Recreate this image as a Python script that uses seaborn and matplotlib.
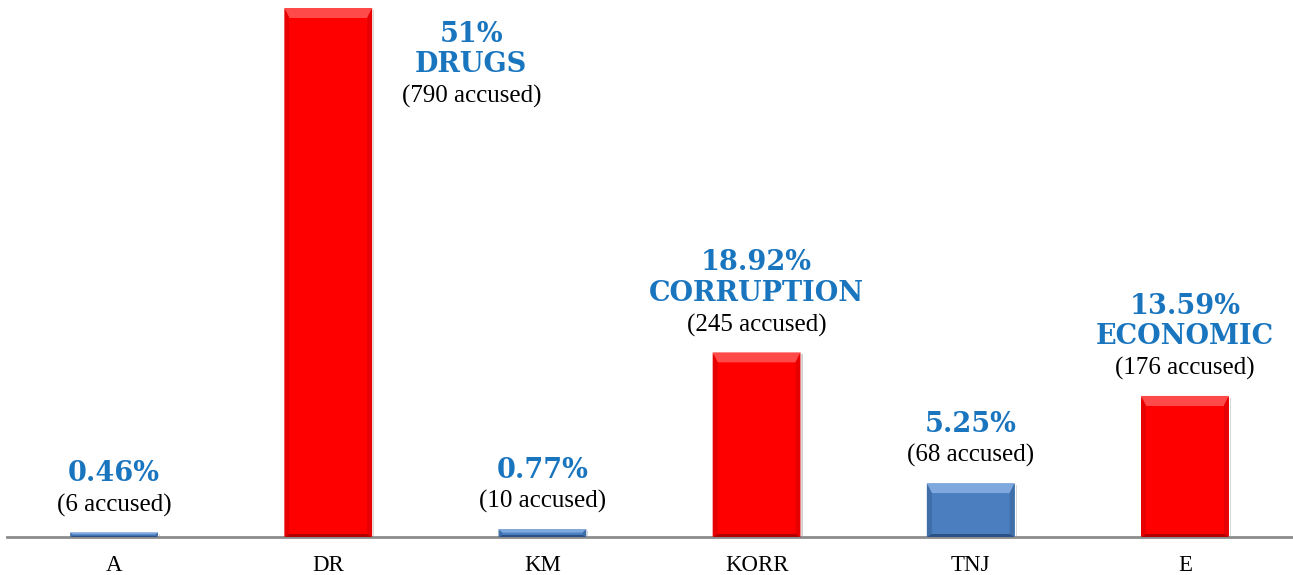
import numpy as np
import pandas as pd
import matplotlib
matplotlib.use('Agg')
import matplotlib.pyplot as plt
import matplotlib.patheffects as pe
from matplotlib.patches import Polygon
import seaborn as sns

# ── data ─────────────────────────────────────────────
categories = ['A', 'DR', 'KM', 'KORR', 'TNJ', 'E']
bar_pct = [0.46, 51, 0.77, 17.8, 5.2, 13.6]          # bar heights as drawn
pct_labels = ['0.46%', '51%', '0.77%', '18.92%', '5.25%', '13.59%']
crime_names = ['', 'DRUGS', '', 'CORRUPTION', '', 'ECONOMIC']
accused = [6, 790, 10, 245, 68, 176]
major = [False, True, False, True, False, True]

df = pd.DataFrame({'cat': categories, 'pct': bar_pct})

RED = '#ff0000'
BLUE = '#4a7ebf'
LABEL_BLUE = '#1a75bf'
palette = {c: (RED if m else BLUE) for c, m in zip(categories, major)}
# bevel facet shades: top, sides, bottom
facets = {RED: ('#ff4a4a', '#e60000', '#b00000'),
          BLUE: ('#7fa9de', '#3f6ea9', '#2a5287')}

sns.set_style('white')
plt.rcParams['font.family'] = ['Liberation Serif', 'DejaVu Serif']

W, H, DPI = 12.93, 5.75, 100
fig = plt.figure(figsize=(W, H), dpi=DPI)
ax = fig.add_axes([7 / 1293, 38 / 575, 1285 / 1293, 537 / 575])

sns.barplot(data=df, x='cat', y='pct', hue='cat', palette=palette,
            width=0.41, legend=False, ax=ax, saturation=1, zorder=2)

ax.set_xlim(-0.5, 5.5)
ax.set_ylim(0, 51 * 537 / 529)
ax.set_xlabel('')
ax.set_ylabel('')
ax.set_yticks([])
for s in ['top', 'right', 'left']:
    ax.spines[s].set_visible(False)
ax.spines['bottom'].set_color('#8c8c8c')
ax.spines['bottom'].set_linewidth(2)
ax.tick_params(axis='x', length=0, pad=13, labelsize=16.5, colors='black')

# pixel -> data scale
px_x = (ax.get_xlim()[1] - ax.get_xlim()[0]) / (ax.bbox.width)
px_y = (ax.get_ylim()[1] - ax.get_ylim()[0]) / (ax.bbox.height)

# bevel / shadow on each bar
for p in list(ax.patches):
    base = matplotlib.colors.to_hex(p.get_facecolor())
    top_c, side_c, bot_c = facets[RED if base == RED else BLUE]
    p.set_path_effects([pe.SimplePatchShadow(offset=(1.5, -1.5), shadow_rgbFace='#777777', alpha=0.35),
                        pe.Normal()])
    x0, y0 = p.get_x(), p.get_y()
    x1, y1 = x0 + p.get_width(), y0 + p.get_height()
    h_px = p.get_height() / px_y
    dt = min(10, h_px * 0.45) * px_y
    db = min(3, h_px * 0.25) * px_y
    ds = min(5, h_px * 0.45) * px_x
    polys = [
        ([(x0, y1), (x1, y1), (x1 - ds, y1 - dt), (x0 + ds, y1 - dt)], top_c),
        ([(x0, y0), (x0, y1), (x0 + ds, y1 - dt), (x0 + ds, y0 + db)], side_c),
        ([(x1, y0), (x1, y1), (x1 - ds, y1 - dt), (x1 - ds, y0 + db)], side_c),
        ([(x0, y0), (x1, y0), (x1 - ds, y0 + db), (x0 + ds, y0 + db)], bot_c),
    ]
    for pts, c in polys:
        ax.add_patch(Polygon(pts, closed=True, facecolor=c, edgecolor='none', zorder=3))

# labels
pitch = 30.5
for i, (cat, val) in enumerate(zip(categories, bar_pct)):
    lines = [(pct_labels[i], LABEL_BLUE, 'bold')]
    if crime_names[i]:
        lines.append((crime_names[i], LABEL_BLUE, 'bold'))
    lines.append((f'({accused[i]} accused)', 'black', 'normal'))
    if cat == 'DR':
        dx, base = 143, -95
    else:
        dx, base = 0, 21
    for k, (txt, col, wt) in enumerate(reversed(lines)):
        bold = wt == 'bold'
        ax.annotate(txt, xy=(i, val), xytext=(dx, base + k * pitch),
                    textcoords='offset pixels', ha='center', va='baseline',
                    color=col, fontweight=wt, fontsize=19.5 if bold else 18,
                    family=['DejaVu Serif'] if bold else ['Liberation Serif'],
                    annotation_clip=False)

fig.savefig('out.png', dpi=DPI)
